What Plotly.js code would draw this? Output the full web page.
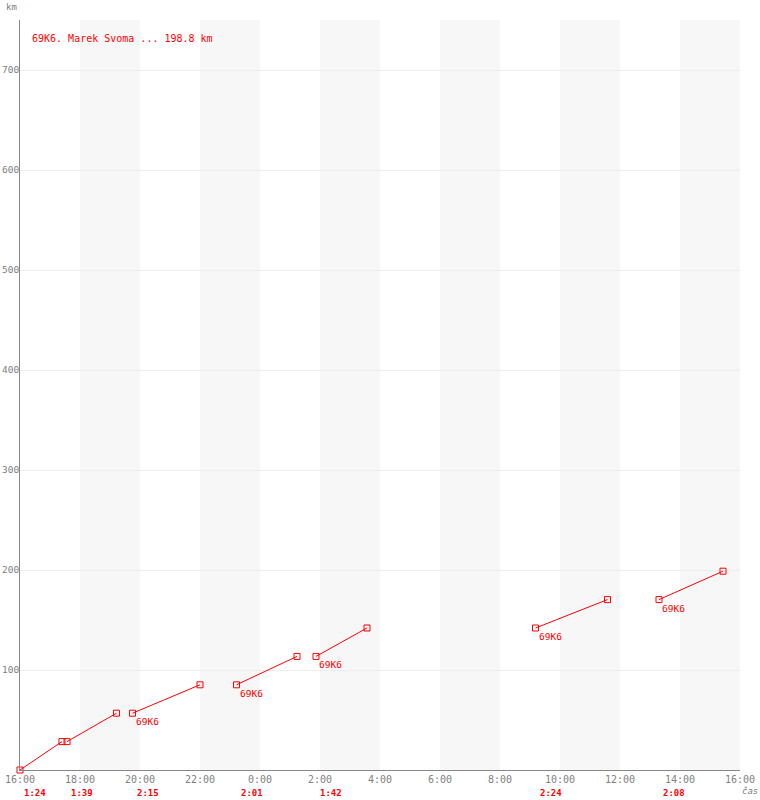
<!DOCTYPE html>
<html>
<head>
<meta charset="utf-8">
<script src="https://cdn.plot.ly/plotly-3.0.1.min.js"></script>
<style>html,body{margin:0;padding:0;background:#fff;}#chart{width:760px;height:800px;}</style>
</head>
<body>
<div id="chart"></div>
<script>
// ---- data ----
const pilotId = '69K6';
const pilotName = 'Marek Svoma';
const totalKm = 198.8;
const legStartTimes = ['2023-06-10 16:00','2023-06-10 17:34','2023-06-10 19:45','2023-06-10 23:13','2023-06-11 01:52','2023-06-11 09:11','2023-06-11 13:18'];
const legEndTimes   = ['2023-06-10 17:24','2023-06-10 19:13','2023-06-10 22:00','2023-06-11 01:14','2023-06-11 03:34','2023-06-11 11:35','2023-06-11 15:26'];
const legStartKm = [0, 28.4, 56.8, 85.2, 113.6, 142.0, 170.4];
const legEndKm   = [28.4, 56.8, 85.2, 113.6, 142.0, 170.4, 198.8];
const legDurations = ['1:24','1:39','2:15','2:01','1:42','2:24','2:08'];
const legLabelShown = [false, false, true, true, true, true, true];
const bandStarts = ['2023-06-10 18:00','2023-06-10 22:00','2023-06-11 02:00','2023-06-11 06:00','2023-06-11 10:00','2023-06-11 14:00'];
const bandEnds   = ['2023-06-10 20:00','2023-06-11 00:00','2023-06-11 04:00','2023-06-11 08:00','2023-06-11 12:00','2023-06-11 16:00'];
const yTicks = [100, 200, 300, 400, 500, 600, 700];
const xRange = ['2023-06-10 16:00','2023-06-11 16:00'];

const mono = 'DejaVu Sans Mono, Liberation Mono, monospace';
const red = '#ff0000';
const grey = '#808080';

const traces = legStartTimes.map((t, i) => ({
  type: 'scatter', mode: 'lines+markers',
  x: [t, legEndTimes[i]], y: [legStartKm[i], legEndKm[i]],
  line: {color: red, width: 1},
  marker: {symbol: 'square-open', size: 6, color: red, line: {width: 1, color: red}},
  hoverinfo: 'skip', showlegend: false, cliponaxis: false
}));

const shapes = bandStarts.map((b, i) => ({
  type: 'rect', xref: 'x', yref: 'paper', x0: b, x1: bandEnds[i], y0: 0, y1: 1,
  fillcolor: '#f7f7f7', line: {width: 0}, layer: 'below'
}));

const annotations = [];
legStartTimes.forEach((t, i) => {
  annotations.push({
    x: t, y: 0, xref: 'x', yref: 'paper', text: '<b>' + legDurations[i] + '</b>',
    showarrow: false, xanchor: 'left', yanchor: 'middle', xshift: 2, yshift: -23,
    font: {family: mono, size: 9, color: red}
  });
  if (legLabelShown[i]) {
    annotations.push({
      x: t, y: legStartKm[i], xref: 'x', yref: 'y', text: pilotId,
      showarrow: false, xanchor: 'left', yanchor: 'top', xshift: 1, yshift: -1,
      font: {family: mono, size: 9.5, color: red}
    });
  }
});
annotations.push({
  x: 10/720, y: 1 - 18/750, xref: 'paper', yref: 'paper',
  text: pilotId + '. ' + pilotName + ' ... ' + totalKm + ' km',
  showarrow: false, xanchor: 'left', yanchor: 'middle',
  font: {family: mono, size: 10, color: red}
});
annotations.push({
  x: 0, y: 1, xref: 'paper', yref: 'paper', text: 'km', showarrow: false,
  xanchor: 'left', yanchor: 'bottom', xshift: -16, yshift: 6,
  font: {family: mono, size: 9, color: grey}
});
annotations.push({
  x: 1, y: 0, xref: 'paper', yref: 'paper', text: '<i>čas</i>', showarrow: false,
  xanchor: 'left', yanchor: 'top', xshift: 0, yshift: -14,
  font: {family: mono, size: 9, color: grey}
});

const layout = {
  width: 760, height: 800,
  margin: {l: 20, r: 20, t: 20, b: 30, pad: 0},
  paper_bgcolor: '#ffffff', plot_bgcolor: '#ffffff',
  showlegend: false,
  xaxis: {
    type: 'date', range: xRange, tick0: xRange[0], dtick: 7200000,
    tickformat: '%-H:%M', showgrid: false, zeroline: false,
    showline: true, linecolor: '#888888', linewidth: 1, ticks: '',
    tickfont: {family: mono, size: 10, color: grey}, fixedrange: true
  },
  yaxis: {
    range: [0, 750], tickvals: yTicks, ticktext: yTicks.map(String),
    showgrid: true, gridcolor: '#eeeeee', gridwidth: 1, zeroline: false,
    showline: true, linecolor: '#888888', linewidth: 1, ticks: '',
    tickfont: {family: mono, size: 9.5, color: grey}, ticklabelstandoff: -2, fixedrange: true
  },
  shapes: shapes,
  annotations: annotations
};

Plotly.newPlot('chart', traces, layout, {displayModeBar: false, staticPlot: true});
</script>
</body>
</html>
